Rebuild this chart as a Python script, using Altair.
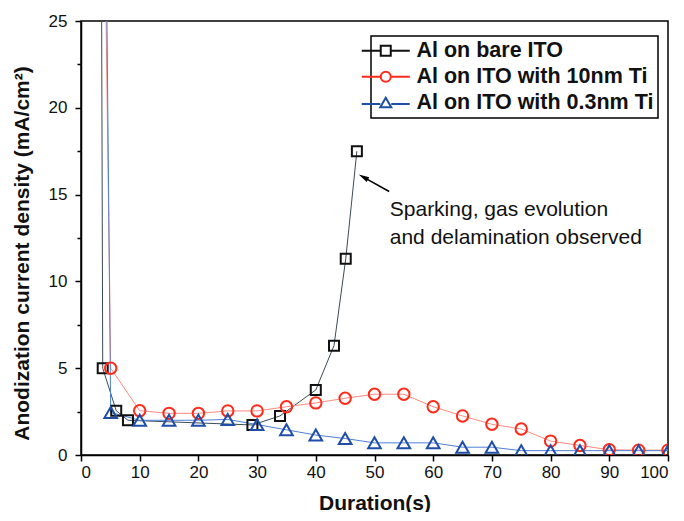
import altair as alt
import pandas as pd

# ---- data ----
series_names = ["Al on bare ITO", "Al on ITO with 10nm Ti", "Al on ITO with 0.3nm Ti"]

bare_x = [3.5, 3.7, 6.0, 8.0, 29.2, 33.9, 40.0, 43.1, 45.1, 47.0]
bare_y = [27.0, 5.0, 2.55, 2.0, 1.73, 2.25, 3.75, 6.3, 11.3, 17.5]

ti10_x = [4.0, 5.06, 10, 15, 20, 25, 30, 35, 40, 45, 50, 55, 60, 65, 70, 75, 80, 85, 90, 95, 100]
ti10_y = [32.0, 5.0, 2.55, 2.4, 2.4, 2.54, 2.54, 2.78, 3.0, 3.27, 3.5, 3.5, 2.78, 2.25, 1.77, 1.5, 0.8, 0.55, 0.3, 0.28, 0.28]

ti03_x = [4.0, 5.06, 10, 15, 20, 25, 30, 35, 40, 45, 50, 55, 60, 65, 70, 75, 80, 85, 90, 95, 100]
ti03_y = [40.0, 2.45, 2.0, 2.0, 2.0, 2.05, 1.75, 1.45, 1.15, 0.95, 0.7, 0.7, 0.7, 0.45, 0.45, 0.25, 0.25, 0.25, 0.25, 0.25, 0.25]

x_ticks = list(range(0, 101, 5))
y_ticks = [0, 2.5, 5, 7.5, 10, 12.5, 15, 17.5, 20, 22.5, 25]

note_text = ["Sparking, gas evolution", "and delamination observed"]
note_x = [52.6]
note_y = [13.75]
arrow_x = [52.5, 48.1]
arrow_y = [15.18, 16.01]

# ---- styles ----
line_colors = ["#3b4b55", "#ff8a80", "#4d7fd6"]
marker_colors = ["#111111", "#ff2a1a", "#1f4ea8"]
marker_shapes = ["square", "circle", "triangle-up"]
marker_sizes = [100, 160, 200]
legend_paths = [
    "M-4.8,0H-1M1,0H4.8M-1,-1H1V1H-1Z",
    "M-4.8,0H-1M1,0H4.8M1,0A1,1,0,1,1,-1,0A1,1,0,1,1,1,0Z",
    "M-4.8,0.25H-1.1M1.1,0.25H4.8M0,-1L1.1,0.9L-1.1,0.9Z",
]
FONT = "Liberation Sans"

rows = []
for name, xs, ys in [(series_names[0], bare_x, bare_y),
                     (series_names[1], ti10_x, ti10_y),
                     (series_names[2], ti03_x, ti03_y)]:
    for i, (xv, yv) in enumerate(zip(xs, ys)):
        rows.append({"series": name, "x": xv, "y": yv, "order": i})
df = pd.DataFrame(rows)

xscale = alt.Scale(domain=[0, 100], nice=False, zero=False)
yscale = alt.Scale(domain=[0, 25], nice=False, zero=False)

x_enc = alt.X("x:Q", scale=xscale, axis=alt.Axis(
    values=x_ticks, title="Duration(s)",
    labelExpr="datum.value % 10 === 0 ? datum.label : ''",
    tickSize={"condition": {"test": "datum.value % 10 === 0", "value": 6}, "value": 4},
    labelPadding=3, titlePadding=12,
))
y_enc = alt.Y("y:Q", scale=yscale, axis=alt.Axis(
    values=y_ticks, title="Anodization current density (mA/cm²)",
    labelExpr="datum.value % 5 === 0 ? datum.label : ''",
    tickSize={"condition": {"test": "datum.value % 5 === 0", "value": 6}, "value": 4},
    labelPadding=8, titlePadding=16, titleY=232,
))

lines = alt.Chart(df).mark_line(clip=True, strokeWidth=1).encode(
    x=x_enc, y=y_enc, order="order:Q",
    color=alt.Color("series:N", scale=alt.Scale(domain=series_names, range=line_colors), legend=None),
    detail="series:N",
)

points = alt.Chart(df).mark_point(clip=True, filled=False, strokeWidth=2, opacity=1).encode(
    x="x:Q", y="y:Q",
    shape=alt.Shape("series:N", scale=alt.Scale(domain=series_names, range=marker_shapes), legend=None),
    color=alt.Color("series:N", scale=alt.Scale(domain=series_names, range=marker_colors), legend=None),
    size=alt.Size("series:N", scale=alt.Scale(domain=series_names, range=marker_sizes), legend=None),
)

legend_layer = alt.Chart(df).mark_point(clip=True, filled=False, opacity=0).encode(
    x="x:Q", y="y:Q",
    shape=alt.Shape("series:N", scale=alt.Scale(domain=series_names, range=legend_paths),
                    legend=alt.Legend(title=None)),
    color=alt.Color("series:N", scale=alt.Scale(domain=series_names, range=marker_colors),
                    legend=alt.Legend(title=None)),
)

note_df = pd.DataFrame({"x": note_x, "y": note_y, "t": ["\n".join(note_text)]})
note = alt.Chart(note_df).mark_text(
    align="left", baseline="alphabetic", font=FONT, fontSize=21, lineBreak="\n",
    lineHeight=28, color="#111111",
).encode(x="x:Q", y="y:Q", text="t:N")

arrow_df = pd.DataFrame({"x": [arrow_x[0]], "y": [arrow_y[0]], "x2": [arrow_x[1]], "y2": [arrow_y[1]]})
arrow_line = alt.Chart(arrow_df).mark_rule(color="black", strokeWidth=1.5).encode(
    x="x:Q", y="y:Q", x2="x2:Q", y2="y2:Q")
head_df = pd.DataFrame({"x": [arrow_x[1]], "y": [arrow_y[1]]})
arrow_head = alt.Chart(head_df).mark_point(
    shape="M0,-1L0.5,1L-0.5,1Z", filled=True, color="black", size=110, angle=299, opacity=1
).encode(x="x:Q", y="y:Q")

chart = alt.layer(lines, points, legend_layer, arrow_line, arrow_head, note).resolve_scale(
    color="independent", shape="independent", size="independent"
).properties(
    width=587, height=434,
    autosize=alt.AutoSizeParams(type="none"),
    padding={"left": 73, "top": 13, "right": 8, "bottom": 57},
    background="white",
).configure_view(
    stroke="black", strokeWidth=1.5,
).configure_axis(
    domainColor="black", domainWidth=1.5, tickColor="black", tickWidth=1.5,
    labelFont=FONT, labelFontSize=17, labelColor="#111111",
    titleFont=FONT, titleFontSize=21, titleFontWeight="bold", titleColor="#111111",
    grid=False,
).configure_legend(
    orient="none", legendX=290, legendY=15,
    strokeColor="black", strokeWidth=1.5, fillColor="white",
    padding=4, labelFont=FONT, labelFontSize=21.5, labelFontWeight="bold", labelColor="#111111",
    labelLimit=500, symbolSize=100, symbolStrokeWidth=2, symbolOpacity=1,
    labelOffset=20, rowPadding=3,
)

chart.save("out.html", embed_options={"renderer": "svg", "actions": False})
